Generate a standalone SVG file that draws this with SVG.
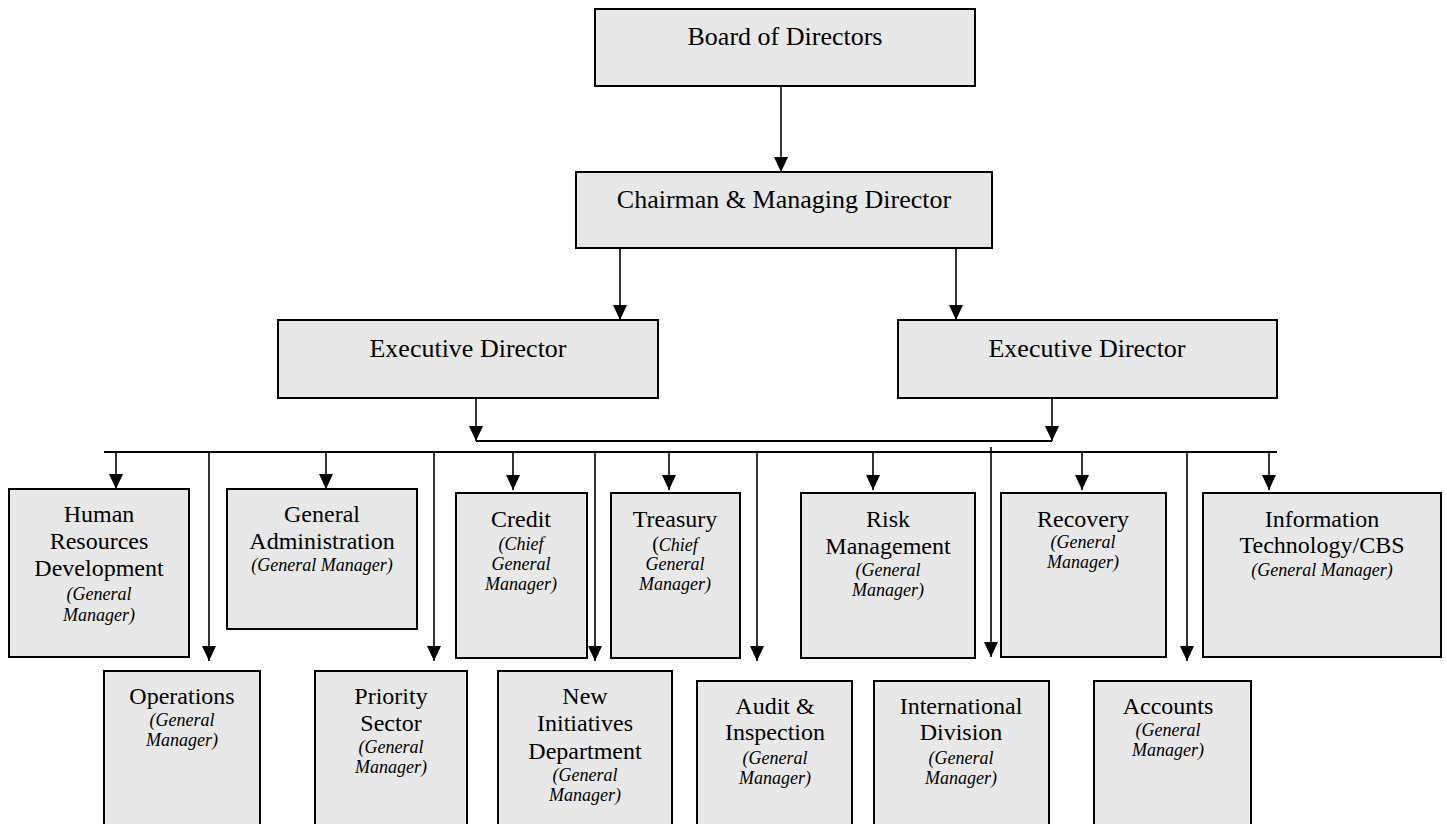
<svg xmlns="http://www.w3.org/2000/svg" width="1447" height="824" viewBox="0 0 1447 824">
<style>
  .box{fill:#e8e8e8;stroke:#000;stroke-width:2}
  .t1{font-family:"Liberation Serif","Times New Roman",serif;font-size:26px;fill:#000;text-anchor:middle}
  .t{font-family:"Liberation Serif","Times New Roman",serif;font-size:24px;fill:#000;text-anchor:middle}
  .i{font-family:"Liberation Serif","Times New Roman",serif;font-size:18px;font-style:italic;fill:#000;text-anchor:middle}
  .ln{stroke:#000;stroke-width:1.6;fill:none}
  .bus{stroke:#000;stroke-width:2;fill:none}
  .ar{stroke:#000;stroke-width:1.6;fill:none;marker-end:url(#ah)}
</style>
<defs>
  <marker id="ah" markerUnits="userSpaceOnUse" markerWidth="15" markerHeight="15" refX="15" refY="7" orient="auto">
    <path d="M0,0 L15,7 L0,14 z" fill="#000"/>
  </marker>
</defs>
<rect width="1447" height="824" fill="#fff"/>

<g id="connectors">
  <line class="ar" x1="781" y1="86" x2="781" y2="172"/>
  <line class="ar" x1="620" y1="248" x2="620" y2="320"/>
  <line class="ar" x1="956" y1="248" x2="956" y2="320"/>
  <line class="ar" x1="476" y1="393" x2="476" y2="441"/>
  <line class="ar" x1="1052" y1="393" x2="1052" y2="441"/>
  <line class="bus" x1="476" y1="441" x2="1052" y2="441"/>
  <line class="bus" x1="104" y1="452" x2="1277" y2="452"/>
  <line class="ar" x1="116" y1="452" x2="116" y2="489"/>
  <line class="ar" x1="209" y1="452" x2="209" y2="661"/>
  <line class="ar" x1="326" y1="452" x2="326" y2="489"/>
  <line class="ar" x1="434" y1="452" x2="434" y2="661"/>
  <line class="ar" x1="513" y1="452" x2="513" y2="490"/>
  <line class="ar" x1="595" y1="452" x2="595" y2="661"/>
  <line class="ar" x1="669" y1="452" x2="669" y2="490"/>
  <line class="ar" x1="757" y1="452" x2="757" y2="661"/>
  <line class="ar" x1="873" y1="452" x2="873" y2="490"/>
  <line class="ar" x1="991" y1="447" x2="991" y2="657"/>
  <line class="ar" x1="1082" y1="452" x2="1082" y2="490"/>
  <line class="ar" x1="1187" y1="452" x2="1187" y2="661"/>
  <line class="ar" x1="1269" y1="452" x2="1269" y2="490"/>
</g>

<g id="board"><rect class="box" x="595" y="9" width="380" height="77"/>
  <text class="t1" x="785" y="45">Board of Directors</text></g>
<g id="chairman"><rect class="box" x="576" y="172" width="416" height="76"/>
  <text class="t1" x="784" y="208">Chairman &amp; Managing Director</text></g>
<g id="exec-left"><rect class="box" x="278" y="320" width="380" height="78"/>
  <text class="t1" x="468" y="357">Executive Director</text></g>
<g id="exec-right"><rect class="box" x="898" y="320" width="379" height="78"/>
  <text class="t1" x="1087" y="357">Executive Director</text></g>

<g id="hr"><rect class="box" x="9" y="489" width="180" height="168"/>
  <text class="t" x="99" y="522">Human</text>
  <text class="t" x="99" y="549">Resources</text>
  <text class="t" x="99" y="576">Development</text>
  <text class="i" x="99" y="600">(General</text>
  <text class="i" x="99" y="621">Manager)</text></g>
<g id="general-admin"><rect class="box" x="227" y="489" width="190" height="140"/>
  <text class="t" x="322" y="522">General</text>
  <text class="t" x="322" y="549">Administration</text>
  <text class="i" x="322" y="571">(General Manager)</text></g>
<g id="credit"><rect class="box" x="456" y="493" width="131" height="165"/>
  <text class="t" x="521" y="527">Credit</text>
  <text class="i" x="521" y="550">(Chief</text>
  <text class="i" x="521" y="570">General</text>
  <text class="i" x="521" y="590">Manager)</text></g>
<g id="treasury"><rect class="box" x="611" y="493" width="129" height="165"/>
  <text class="t" x="675" y="527">Treasury</text>
  <text class="i" x="675" y="551"><tspan style="font-style:normal;font-size:20px">(</tspan>Chief</text>
  <text class="i" x="675" y="570">General</text>
  <text class="i" x="675" y="590">Manager)</text></g>
<g id="risk"><rect class="box" x="801" y="493" width="174" height="165"/>
  <text class="t" x="888" y="527">Risk</text>
  <text class="t" x="888" y="554">Management</text>
  <text class="i" x="888" y="576">(General</text>
  <text class="i" x="888" y="596">Manager)</text></g>
<g id="recovery"><rect class="box" x="1001" y="493" width="165" height="164"/>
  <text class="t" x="1083" y="527">Recovery</text>
  <text class="i" x="1083" y="548">(General</text>
  <text class="i" x="1083" y="568">Manager)</text></g>
<g id="it"><rect class="box" x="1203" y="493" width="238" height="164"/>
  <text class="t" x="1322" y="527">Information</text>
  <text class="t" x="1322" y="553">Technology/CBS</text>
  <text class="i" x="1322" y="576">(General Manager)</text></g>

<g id="operations"><rect class="box" x="104" y="671" width="156" height="165"/>
  <text class="t" x="182" y="704">Operations</text>
  <text class="i" x="182" y="726">(General</text>
  <text class="i" x="182" y="746">Manager)</text></g>
<g id="priority"><rect class="box" x="315" y="671" width="152" height="165"/>
  <text class="t" x="391" y="704">Priority</text>
  <text class="t" x="391" y="731">Sector</text>
  <text class="i" x="391" y="753">(General</text>
  <text class="i" x="391" y="773">Manager)</text></g>
<g id="new-initiatives"><rect class="box" x="498" y="671" width="174" height="165"/>
  <text class="t" x="585" y="704">New</text>
  <text class="t" x="585" y="731">Initiatives</text>
  <text class="t" x="585" y="759">Department</text>
  <text class="i" x="585" y="781">(General</text>
  <text class="i" x="585" y="801">Manager)</text></g>
<g id="audit"><rect class="box" x="697" y="681" width="155" height="155"/>
  <text class="t" x="775" y="714">Audit &amp;</text>
  <text class="t" x="775" y="740">Inspection</text>
  <text class="i" x="775" y="764">(General</text>
  <text class="i" x="775" y="784">Manager)</text></g>
<g id="international"><rect class="box" x="874" y="681" width="175" height="155"/>
  <text class="t" x="961" y="714">International</text>
  <text class="t" x="961" y="740">Division</text>
  <text class="i" x="961" y="764">(General</text>
  <text class="i" x="961" y="784">Manager)</text></g>
<g id="accounts"><rect class="box" x="1094" y="681" width="157" height="155"/>
  <text class="t" x="1168" y="714">Accounts</text>
  <text class="i" x="1168" y="736">(General</text>
  <text class="i" x="1168" y="756">Manager)</text></g>
</svg>
